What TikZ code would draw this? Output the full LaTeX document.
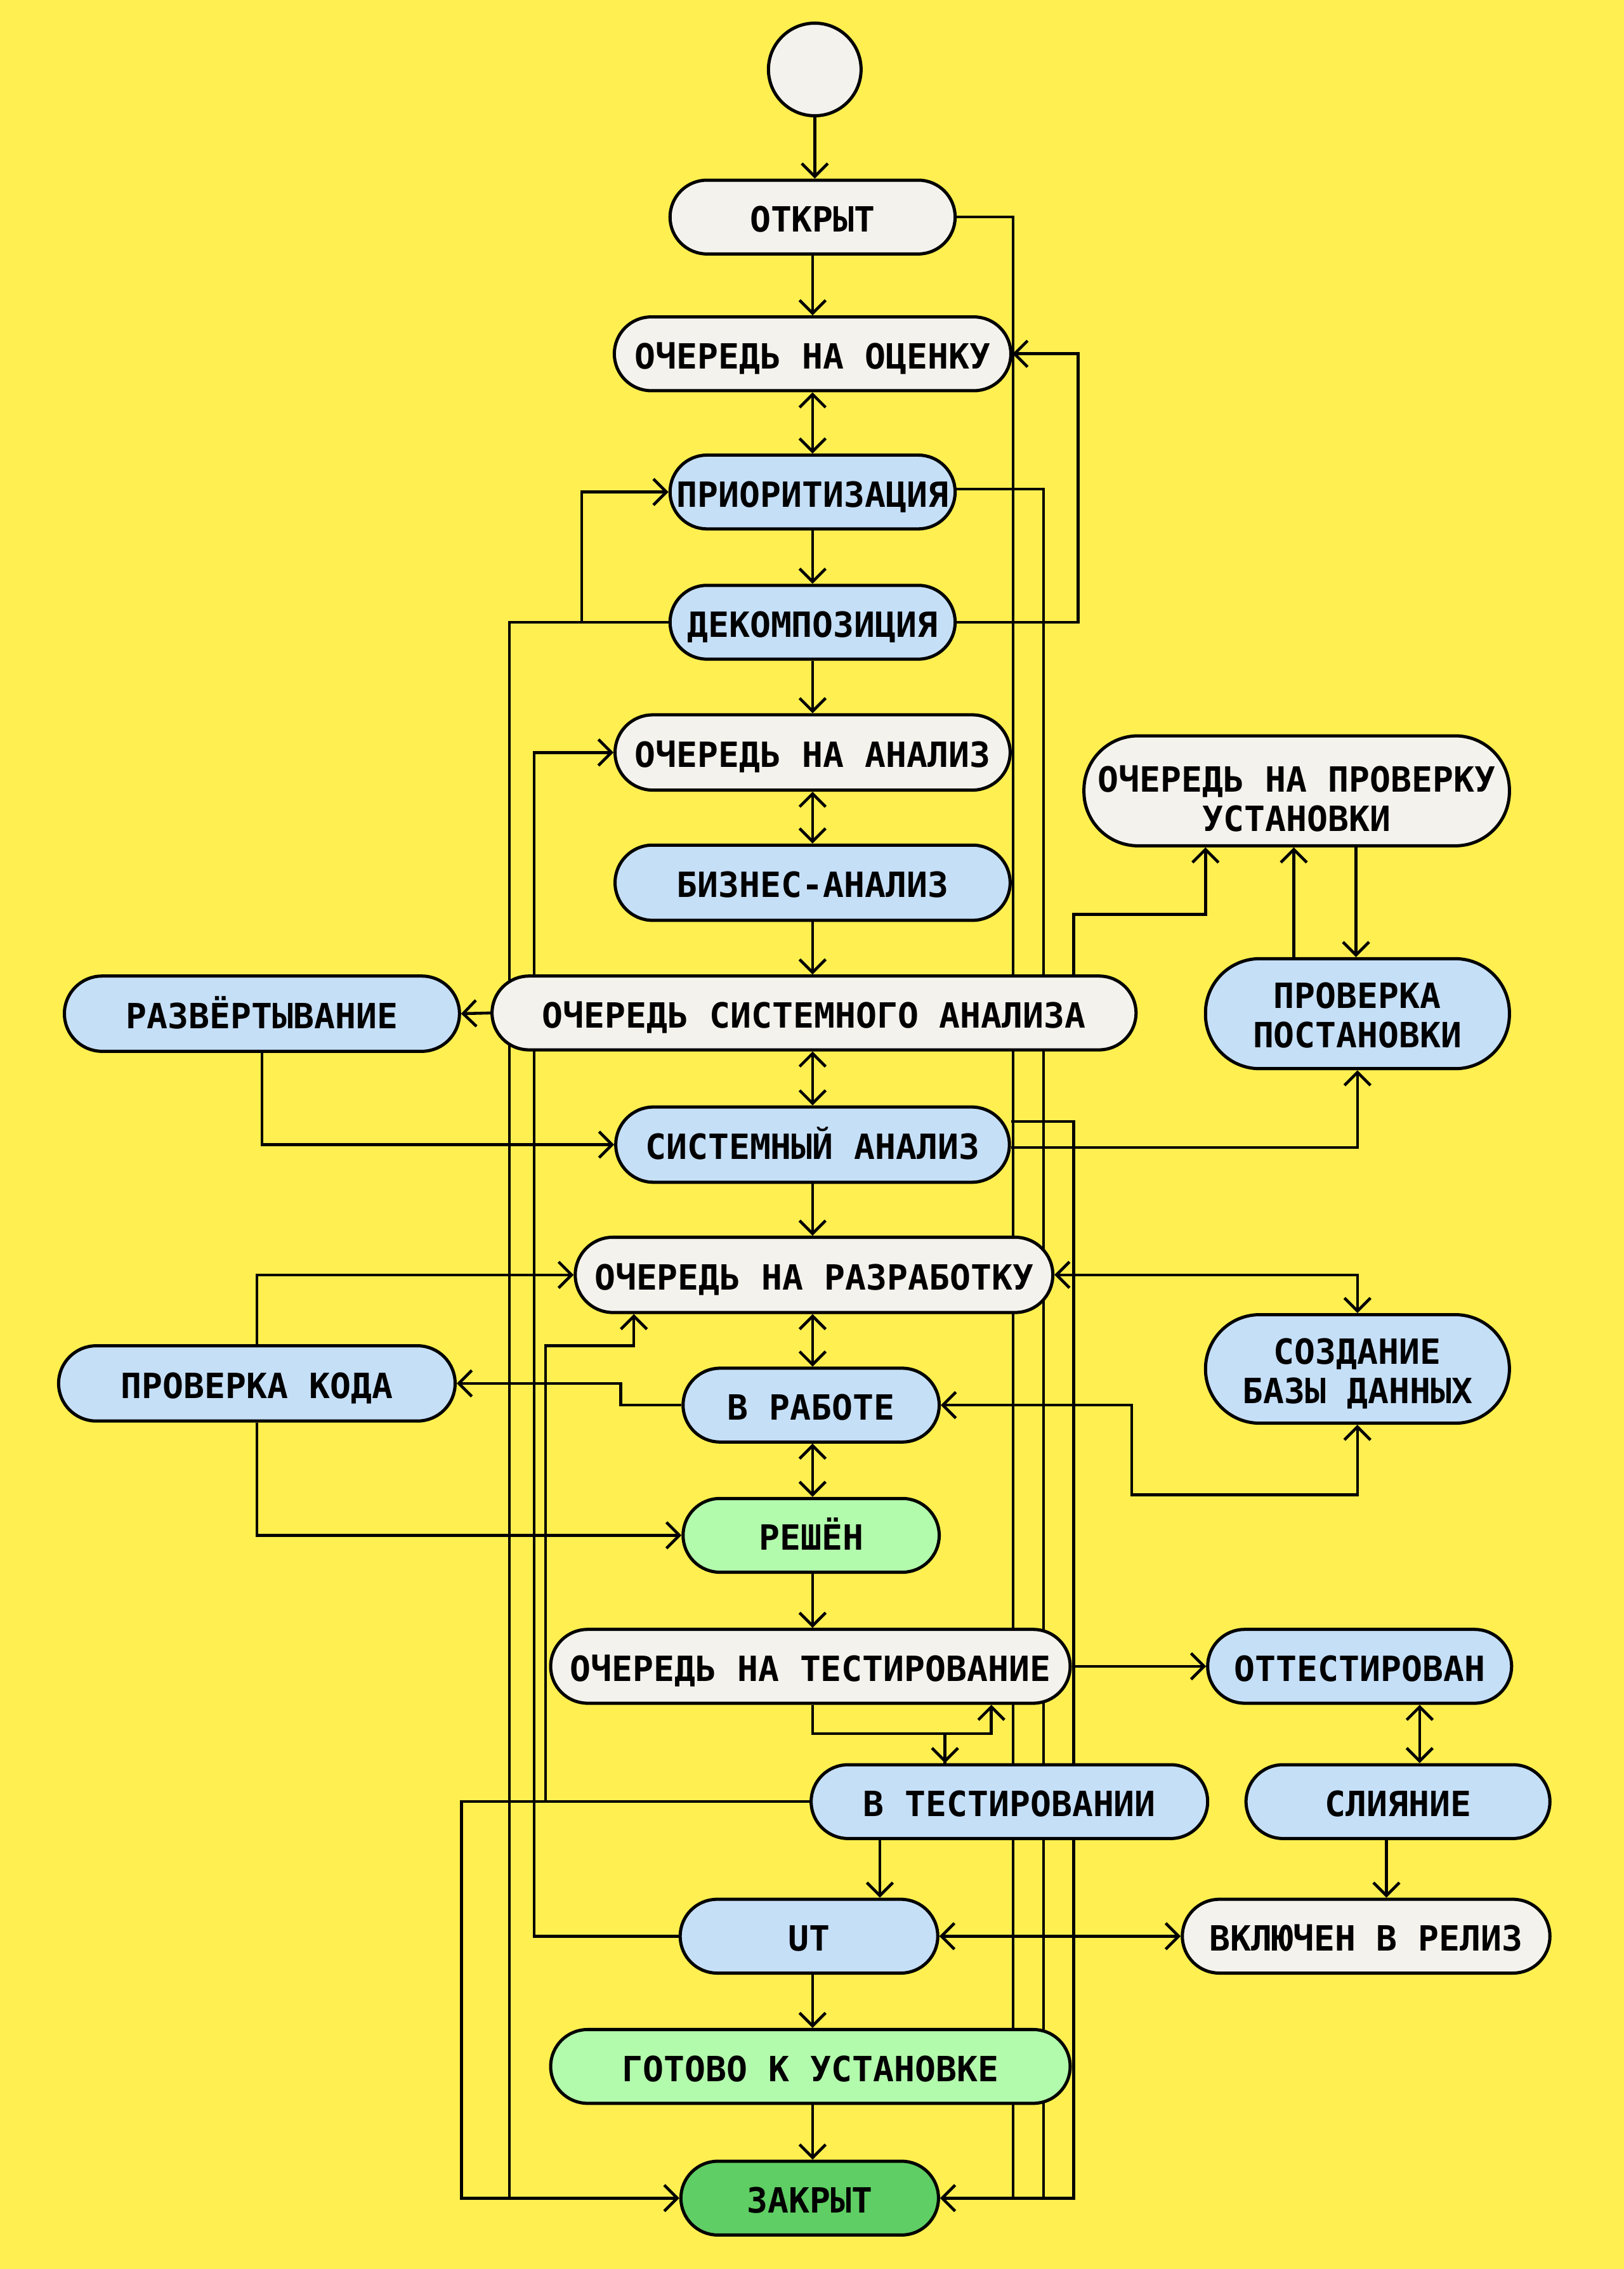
\documentclass[tikz,border=0pt]{standalone}
\usepackage{fontspec}
\newfontfamily\nodefont{DejaVu Sans Mono}
\usetikzlibrary{arrows.meta,shapes.misc}
\pgfdeclarelayer{bg}
\pgfsetlayers{bg,main}
\definecolor{ybg}{HTML}{FFEF50}
\definecolor{cwhite}{HTML}{F4F2EC}
\definecolor{cblue}{HTML}{C5DFF7}
\definecolor{clgreen}{HTML}{B2FAAC}
\definecolor{cgreen}{HTML}{5FCE64}
\newcommand\twolines[3]{\vbox{\hbox to #1{\hss #2\hss}\hbox to #1{\hss #3\hss}}}
\tikzset{
  state/.style={rounded rectangle, draw=black, line width=2.2pt, inner sep=0pt,
    minimum height=51pt, text height=20.5pt, text depth=0pt,
    font=\nodefont\bfseries\fontsize{24}{27}\selectfont},
  tall/.style={rectangle, rounded corners=37.4pt},
  wst/.style={state, fill=cwhite},
  bst/.style={state, fill=cblue},
  lgst/.style={state, fill=clgreen},
  gst/.style={state, fill=cgreen},
  conn/.style={line width=2pt, draw=black},
  arr/.style={conn, -{Straight Barb[length=9pt,width=18pt]}},
  darr/.style={conn, {Straight Barb[length=9pt,width=18pt]}-{Straight Barb[length=9pt,width=18pt]}},
}
\begin{document}
\begin{tikzpicture}[x=1pt,y=-1pt]
\begin{pgfonlayer}{bg}
\fill[ybg] (0,0) rectangle (1122,1568);
\end{pgfonlayer}
\useasboundingbox (0,0) rectangle (1122,1568);

% nodes
\node[circle, draw=black, line width=2.2pt, fill=cwhite, minimum size=64pt, inner sep=0pt] (start) at (563,48) {};
\node[wst, minimum width=197pt] (otk) at (561.5,150) {ОТКРЫТ};
\node[wst, minimum width=274pt] (ono) at (561.5,244.5) {ОЧЕРЕДЬ НА ОЦЕНКУ};
\node[bst, minimum width=197pt] (prior) at (561.5,340) {ПРИОРИТИЗАЦИЯ};
\node[bst, minimum width=197pt] (dek) at (561.5,430) {ДЕКОМПОЗИЦИЯ};
\node[wst, minimum width=273pt, minimum height=52pt] (ona) at (561.5,520) {ОЧЕРЕДЬ НА АНАЛИЗ};
\node[bst, minimum width=273pt, minimum height=52pt] (biz) at (561.5,610) {БИЗНЕС-АНАЛИЗ};
\node[wst, minimum width=445pt] (osa) at (562.5,700) {ОЧЕРЕДЬ СИСТЕМНОГО АНАЛИЗА};
\node[bst, minimum width=273pt, minimum height=52pt] (razv) at (181,700.5) {РАЗВЁРТЫВАНИЕ};
\node[bst, minimum width=272pt, minimum height=52pt] (sa) at (561.5,791) {СИСТЕМНЫЙ АНАЛИЗ};
\node[wst, minimum width=330pt, minimum height=52pt] (onr) at (562.5,881) {ОЧЕРЕДЬ НА РАЗРАБОТКУ};
\node[bst, minimum width=274pt, minimum height=52pt] (pk) at (177.5,956) {ПРОВЕРКА КОДА};
\node[bst, minimum width=177pt] (vr) at (560.5,971) {В РАБОТЕ};
\node[lgst, minimum width=177pt] (resh) at (560.5,1061) {РЕШЁН};
\node[bst, tall, minimum width=210pt, minimum height=75pt, text height=47.3pt] (sozd) at (938,946) {\twolines{200pt}{СОЗДАНИЕ}{БАЗЫ ДАННЫХ}};
\node[wst, tall, minimum width=294pt, minimum height=76pt, text height=55.5pt] (onpu) at (896,546.5) {\twolines{284pt}{ОЧЕРЕДЬ НА ПРОВЕРКУ}{УСТАНОВКИ}};
\node[bst, tall, minimum width=210pt, minimum height=76pt, text height=46.9pt] (pp) at (938,700.5) {\twolines{200pt}{ПРОВЕРКА}{ПОСТАНОВКИ}};
\node[wst, minimum width=359pt] (ont) at (560,1151.5) {ОЧЕРЕДЬ НА ТЕСТИРОВАНИЕ};
\node[bst, minimum width=210pt] (ott) at (939.5,1151.5) {ОТТЕСТИРОВАН};
\node[bst, minimum width=274pt] (vt) at (697.5,1245) {В ТЕСТИРОВАНИИ};
\node[bst, minimum width=210pt] (sl) at (966,1245) {СЛИЯНИЕ};
\node[bst, minimum width=178pt] (ut) at (559,1338) {UT};
\node[wst, minimum width=254pt] (vvr) at (944,1338) {ВКЛЮЧЕН В РЕЛИЗ};
\node[lgst, minimum width=359pt] (got) at (560,1428) {ГОТОВО К УСТАНОВКЕ};
\node[gst, minimum width=178pt] (zak) at (559.5,1519) {ЗАКРЫТ};

% connectors
\begin{pgfonlayer}{bg}
\draw[arr] (start.south) -- (start.south |- otk.north);
\draw[arr] (otk.south) -- (otk.south |- ono.north);
\draw[darr] (ono.south) -- (ono.south |- prior.north);
\draw[arr] (prior.south) -- (prior.south |- dek.north);
\draw[arr] (dek.south) -- (dek.south |- ona.north);
\draw[darr] (ona.south) -- (ona.south |- biz.north);
\draw[arr] (biz.south) -- (biz.south |- osa.north);
\draw[darr] (osa.south -| sa.north) -- (sa.north);
\draw[arr] (sa.south) -- (sa.south |- onr.north);
\draw[darr] (onr.south -| 561.5,0) -- (vr.north -| 561.5,0);
\draw[darr] (vr.south -| 561.5,0) -- (resh.north -| 561.5,0);
\draw[arr] (resh.south -| 561.5,0) -- (ont.north -| 561.5,0);
\draw[arr] (ont.south -| 561.5,0) |- (653,1198) -- (vt.north -| 653,0);
\draw[arr] (vt.north -| 653,0) -- (653,1198) -| (ont.south -| 685,0);
\draw[arr] (vt.south -| 608,0) -- (ut.north -| 608,0);
\draw[arr] (ut.south -| 561.5,0) -- (got.north -| 561.5,0);
\draw[arr] (got.south -| 561.5,0) -- (zak.north -| 561.5,0);
\draw[arr] (osa.west) -- (razv.east);
\draw[arr] (razv.south) |- (sa.west);
\draw[arr] (pk.north) |- (onr.west);
\draw[arr] (pk.south) |- (resh.west);
\draw[arr] (vr.west) -- (vr.west -| 429,0) |- (pk.east);
\draw[darr] (onr.east) -| (sozd.north);
\draw[darr] (vr.east) -| (782,1033) -| (sozd.south);
\draw[arr] (osa.north -| 742,0) |- (833,632) -- (onpu.south -| 833,0);
\draw[arr] (pp.north -| 894,0) -- (onpu.south -| 894,0);
\draw[arr] (onpu.south -| 937,0) -- (pp.north -| 937,0);
\draw[arr] (sa.east |- 0,793) -| (pp.south);
\draw[arr] (sa.east |- 0,775) -| (zak.east -| 742,0) -- (zak.east);
\draw[conn] (otk.east) -| (zak.east -| 700,0);
\draw[conn] (prior.east |- 0,338) -| (zak.east -| 721,0);
\draw[conn] (dek.west) -| (zak.west -| 352,0);
\draw[arr] (vt.west) -| (zak.west -| 319,0) -- (zak.west);
\draw[arr] (dek.west) -- (dek.west -| 402,0) |- (prior.west);
\draw[arr] (dek.east) -- (dek.east -| 745,0) |- (ono.east);
\draw[arr] (vt.west) -- (vt.west -| 377,0) |- (438,930) -- (onr.south -| 438,0);
\draw[arr] (ut.west) -- (ut.west -| 369,0) |- (ona.west);
\draw[arr] (ont.east) -- (ott.west);
\draw[darr] (ott.south -| 981,0) -- (sl.north -| 981,0);
\draw[arr] (sl.south -| 958,0) -- (vvr.north -| 958,0);
\draw[darr] (ut.east) -- (vvr.west);
\end{pgfonlayer}
\end{tikzpicture}
\end{document}
